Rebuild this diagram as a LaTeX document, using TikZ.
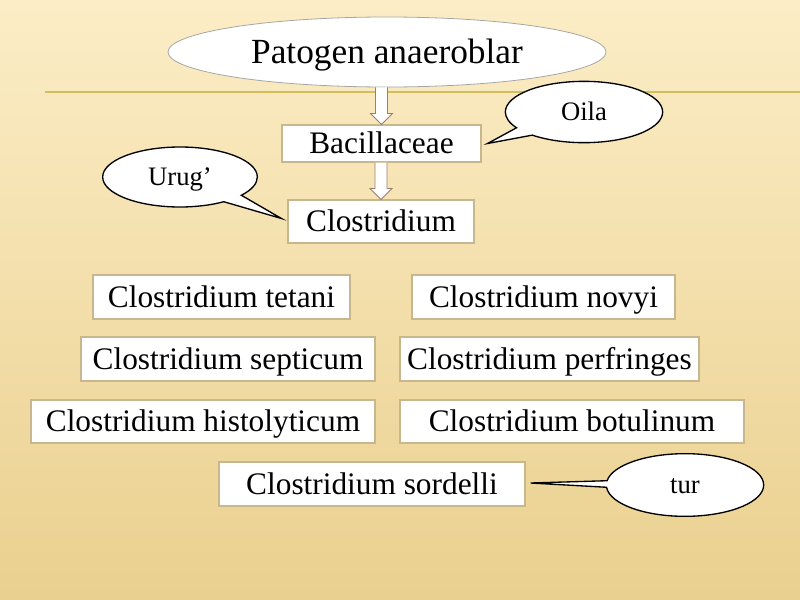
\documentclass[tikz,border=0pt]{standalone}
\usepackage{fontspec}
\setmainfont{Liberation Serif}
\usetikzlibrary{shapes.geometric,shapes.callouts,calc}

\definecolor{bgtop}{HTML}{FCEDC6}
\definecolor{bgbot}{HTML}{EAD08F}
\definecolor{rule}{HTML}{D2BE5A}
\definecolor{boxline}{HTML}{C7B68E}
\definecolor{arrowline}{HTML}{9A7E70}

\tikzset{
  title/.style={ellipse, draw=gray!70, fill=white, line width=0.6pt, inner sep=0pt,
    minimum width=328.5pt, minimum height=52.5pt, text height=18.3pt, text depth=0.8pt,
    font=\fontsize{26.5}{30}\selectfont},
  taxbox/.style={draw=boxline, fill=white, line width=0.8pt, inner sep=0pt,
    minimum height=33pt, text height=16.2pt, text depth=0.7pt,
    font=\fontsize{23.5}{28}\selectfont},
  bubble/.style={ellipse callout, draw=black, fill=white, line width=1pt, inner sep=0pt,
    minimum width=118pt, minimum height=46pt, callout pointer arc=18,
    text height=13.8pt, text depth=0.6pt, font=\fontsize{20}{24}\selectfont},
  hollow/.style={draw=arrowline, fill=white, line width=0.7pt, line join=miter}
}

\newcommand{\hollowarrow}[2]{%
  \draw[hollow] ($(#1)+(-6,0)$) -- ($(#2)+(-6,-11)$) -- ($(#2)+(-11,-11)$) -- (#2)
    -- ($(#2)+(11,-11)$) -- ($(#2)+(6,-11)$) -- ($(#1)+(6,0)$);}

\begin{document}
\begin{tikzpicture}[x=0.75pt,y=-0.75pt]
        % background
        \shade[top color=bgtop, bottom color=bgbot] (0,0) rectangle (800,600);
        \useasboundingbox (0,0) rectangle (800,600);

        \draw[rule, line width=1.5pt] (45,92) -- (800,92);

        \node[title] (top) at (387,52) {Patogen anaeroblar};

        \node[taxbox, minimum width=149.25pt, minimum height=27.75pt] (bac) at (381.5,143.5) {Bacillaceae};
        \node[taxbox, minimum width=139.5pt, minimum height=32.25pt] (clo) at (381,221.5) {Clostridium};

        \node[taxbox, minimum width=192.75pt] (tet) at (221.5,297) {Clostridium tetani};
        \node[taxbox, minimum width=197.25pt] (nov) at (543.5,297) {Clostridium novyi};
        \node[taxbox, minimum width=220.5pt] (sep) at (228,359) {Clostridium septicum};
        \node[taxbox, minimum width=224.25pt] (per) at (549.5,359) {Clostridium perfringes};
        \node[taxbox, minimum width=258pt, minimum height=32.25pt] (his) at (203,421.5) {Clostridium histolyticum};
        \node[taxbox, minimum width=258pt, minimum height=32.25pt] (bot) at (572,421.5) {Clostridium botulinum};
        \node[taxbox, minimum width=229.5pt] (sor) at (372,484) {Clostridium sordelli};

        \hollowarrow{top.south -| bac.north}{bac.north}
        \hollowarrow{bac.south -| clo.north}{clo.north}

        % callouts
        \node[bubble, callout absolute pointer={($(bac.east)+(6,0)$)}] (oila) at (584,112) {Oila};
        \node[bubble, minimum width=116pt, minimum height=45pt,
              callout absolute pointer={($(clo.west)+(-6,-3)$)}] (urug) at (180,177) {Urug’};
        \node[bubble, minimum height=47pt, callout pointer arc=12,
              callout absolute pointer={($(sor.east)+(5,-1)$)}] (tur) at (685,485) {tur};
\end{tikzpicture}
\end{document}
